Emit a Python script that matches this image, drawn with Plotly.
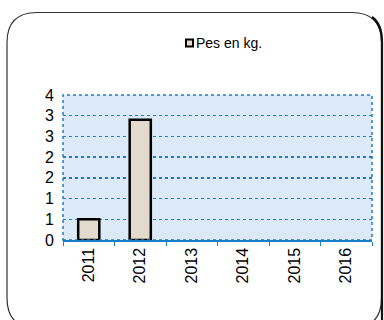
import plotly.graph_objects as go

years = ["2011", "2012", "2013", "2014", "2015", "2016"]
pes = [0.5, 2.9, None, None, None, None]
series_name = "Pes en kg."
y_tickvals = [0, 0.5, 1, 1.5, 2, 2.5, 3, 3.5]
y_ticktext = ["0", "1", "1", "2", "2", "3", "3", "4"]

L, R, T, B = 63, 372, 95, 240
W, H = 384, 320

def px(x):
    return (x - L) / (R - L)

def py(y):
    return (B - y) / (B - T)

def rounded(x0, y0, x1, y1, r):
    pts = [
        f"M {px(x0 + r)},{py(y0)}",
        f"L {px(x1 - r)},{py(y0)}",
        f"Q {px(x1)},{py(y0)} {px(x1)},{py(y0 + r)}",
        f"L {px(x1)},{py(y1 - r)}",
        f"Q {px(x1)},{py(y1)} {px(x1 - r)},{py(y1)}",
        f"L {px(x0 + r)},{py(y1)}",
        f"Q {px(x0)},{py(y1)} {px(x0)},{py(y1 - r)}",
        f"L {px(x0)},{py(y0 + r)}",
        f"Q {px(x0)},{py(y0)} {px(x0 + r)},{py(y0)}",
        "Z",
    ]
    return " ".join(pts)

blue = "#1a7fc9"
bar_fill = "#e2dacd"

fig = go.Figure()
fig.add_trace(go.Bar(
    x=years, y=pes, name=series_name,
    marker=dict(color=bar_fill, line=dict(color="black", width=2.5)),
    width=0.41, showlegend=False, hoverinfo="skip",
))

shadow = (f"M {px(372)},{py(17)} Q {px(382)},{py(24)} {px(382)},{py(42)} "
          f"L {px(382)},{py(330)}")

fig.update_layout(
    width=W, height=H,
    margin=dict(l=L, r=W - R, t=T, b=H - B),
    paper_bgcolor="white",
    plot_bgcolor="#dce9f7",
    font=dict(family="Arial, Liberation Sans, sans-serif", color="black"),
    showlegend=False,
    xaxis=dict(
        type="category", tickangle=-90, tickfont=dict(size=16),
        showgrid=False, showline=True, linecolor=blue, linewidth=1.5,
        ticks="outside", tickson="boundaries", ticklen=4, tickcolor=blue,
        zeroline=False, fixedrange=True, automargin=False,
    ),
    yaxis=dict(
        range=[0, 3.5], tickvals=y_tickvals, ticktext=y_ticktext,
        tickfont=dict(size=16), showgrid=True, gridcolor=blue,
        griddash="dot", gridwidth=1.5, showline=False, zeroline=False,
        ticks="", ticklabelstandoff=8, fixedrange=True, automargin=False,
    ),
    annotations=[
        dict(text=series_name, xref="paper", yref="paper",
             x=px(195), y=py(43), xanchor="left", yanchor="middle",
             showarrow=False, font=dict(size=14), xshift=-1),
    ],
    shapes=[
        dict(type="rect", xref="paper", yref="paper", x0=0, x1=1, y0=0, y1=1,
             line=dict(color=blue, width=1.5, dash="dot"), layer="above"),
        dict(type="rect", xref="paper", yref="paper",
             x0=px(186), x1=px(193), y0=py(39.5), y1=py(46.5),
             fillcolor=bar_fill, line=dict(color="black", width=2)),
        dict(type="path", xref="paper", yref="paper",
             path=rounded(7, 12.5, 381.5, 328, 30),
             line=dict(color="#333333", width=1.2)),
        dict(type="path", xref="paper", yref="paper", path=shadow,
             line=dict(color="#111111", width=2.2)),
    ],
)

fig.write_html("out.html",
               config={"displayModeBar": False, "staticPlot": True},
               post_script="document.body.style.margin='0';document.body.style.overflow='hidden';")
